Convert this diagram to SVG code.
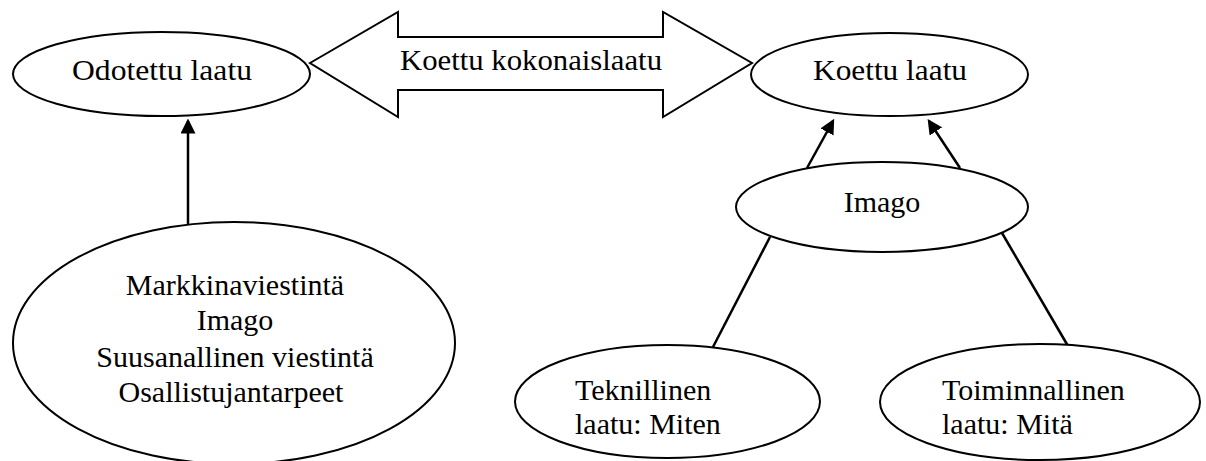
<svg xmlns="http://www.w3.org/2000/svg" width="1206" height="461" viewBox="0 0 1206 461">
<style>
.n{fill:#fff;stroke:#000;stroke-width:2}
.t{font-family:"Liberation Serif","Times New Roman",serif;font-size:30px;fill:#000}
.c{text-anchor:middle}
.e{stroke:#000;stroke-width:2.5;fill:none}
</style>
<defs>
<marker id="ah" markerWidth="6" markerHeight="6" refX="5" refY="3" orient="auto" markerUnits="strokeWidth"><path d="M0,0 L6,3 L0,6 Z" fill="#000"/></marker>
</defs>
<rect width="1206" height="461" fill="#fff"/>
<g id="connectors">
<line class="e" x1="188" y1="224" x2="188" y2="121" marker-end="url(#ah)"/>
<line class="e" x1="807" y1="168" x2="833" y2="121" marker-end="url(#ah)"/>
<line class="e" x1="960" y1="168" x2="929" y2="121" marker-end="url(#ah)"/>
<line class="e" x1="770" y1="237" x2="713" y2="347"/>
<line class="e" x1="1002" y1="233" x2="1068" y2="346"/>
</g>
<g id="double-arrow">
<polygon class="n" points="310,63 398,12 398,37 663,37 663,12 752,63 663,117 663,90 398,90 398,117"/>
<text class="t c" x="531" y="70" textLength="262" lengthAdjust="spacingAndGlyphs">Koettu kokonaislaatu</text>
</g>
<g id="odotettu">
<ellipse class="n" cx="161.5" cy="74" rx="148.5" ry="42"/>
<text class="t c" x="162" y="80" textLength="180" lengthAdjust="spacingAndGlyphs">Odotettu laatu</text>
</g>
<g id="koettu">
<ellipse class="n" cx="889.5" cy="74.5" rx="138.5" ry="41.5"/>
<text class="t c" x="890" y="80" textLength="154" lengthAdjust="spacingAndGlyphs">Koettu laatu</text>
</g>
<g id="imago">
<ellipse class="n" cx="882" cy="207" rx="146" ry="45"/>
<text class="t c" x="882" y="212">Imago</text>
</g>
<g id="tekijat">
<ellipse class="n" cx="234" cy="343" rx="221" ry="121"/>
<text class="t c" x="235" y="295">Markkinaviestintä</text>
<text class="t c" x="235" y="330">Imago</text>
<text class="t c" x="235" y="367">Suusanallinen viestintä</text>
<text class="t c" x="231" y="402">Osallistujantarpeet</text>
</g>
<g id="teknillinen">
<ellipse class="n" cx="667.5" cy="401.5" rx="152.5" ry="56.5"/>
<text class="t" x="575" y="400">Teknillinen</text>
<text class="t" x="575" y="434">laatu: Miten</text>
</g>
<g id="toiminnallinen">
<ellipse class="n" cx="1040" cy="402" rx="160" ry="58"/>
<text class="t" x="942" y="400">Toiminnallinen</text>
<text class="t" x="942" y="434">laatu: Mitä</text>
</g>
</svg>
